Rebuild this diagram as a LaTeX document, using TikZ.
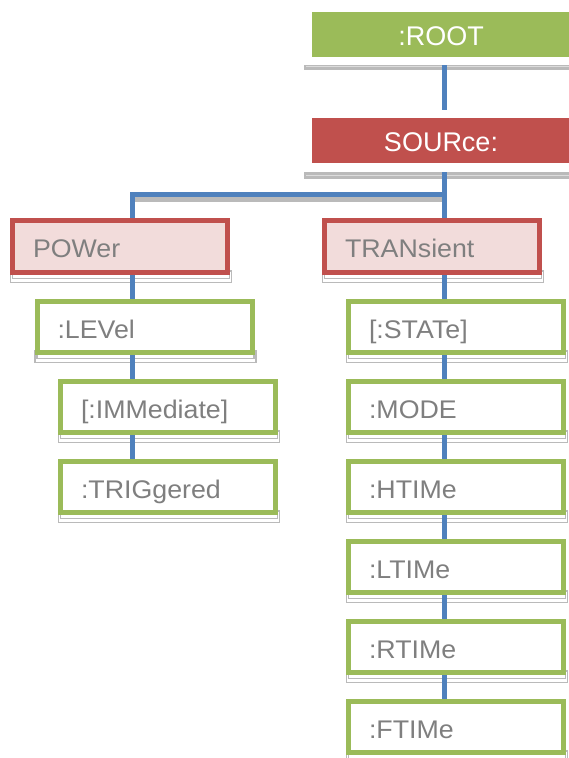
\documentclass[tikz,border=0pt]{standalone}
\usepackage{fontspec}
\setmainfont{Liberation Sans}[FakeStretch=1.05]
\newfontfamily\topfont{Liberation Sans}
\usetikzlibrary{calc}
\pgfdeclarelayer{shad}
\pgfdeclarelayer{conn}
\pgfsetlayers{shad,conn,main}
\definecolor{kgreen}{HTML}{9BBB59}
\definecolor{kred}{HTML}{C0504D}
\definecolor{kpink}{HTML}{F2DCDB}
\definecolor{kblue}{HTML}{4F81BD}
\definecolor{ktext}{HTML}{7F7F7F}
\definecolor{kshad}{HTML}{BABABA}
\definecolor{kshadl}{HTML}{DCDCDC}
\begin{document}
\begin{tikzpicture}[x=1pt,y=-1pt,
  topbox/.style={rectangle, minimum width=258pt, minimum height=45pt, inner sep=0pt,
    text=white, font=\topfont\fontsize{27}{30}\selectfont, text height=22pt, text depth=0pt},
  rootbox/.style={topbox, fill=kgreen},
  srcbox/.style={topbox, fill=kred},
  subbox/.style={rectangle, line width=5pt, minimum width=215pt, text width=174pt,
    inner xsep=20.5pt, inner ysep=0pt, align=left, text=ktext,
    font=\fontsize{25.5}{30}\selectfont, text height=22pt, text depth=0pt},
  groupbox/.style={subbox, draw=kred, fill=kpink, minimum height=52pt},
  leafbox/.style={subbox, draw=kgreen, fill=white, minimum height=51pt},
  conn/.style={draw=kblue, line width=5pt, line join=miter},
  shadline/.style={draw=kshad, line width=1.6pt},
]
\useasboundingbox (0,0) rectangle (569,758);

% nodes
\node[rootbox] (root) at (441,34.5) {:ROOT};
\node[srcbox] (source) at (441,140.5) {SOURce:};
\node[groupbox] (power) at (120,246.5) {POWer};
\node[groupbox] (transient) at (432,246.5) {TRANsient};
\node[leafbox] (level) at (144.5,327) {:LEVel};
\node[leafbox] (imm) at (168,407) {[:IMMediate]};
\node[leafbox] (trig) at (168,487) {:TRIGgered};
\node[leafbox] (state) at (456,327) {[:STATe]};
\node[leafbox] (mode) at (456,407) {:MODE};
\node[leafbox] (htime) at (456,487) {:HTIMe};
\node[leafbox] (ltime) at (456,567) {:LTIMe};
\node[leafbox] (rtime) at (456,647) {:RTIMe};
\node[leafbox] (ftime) at (456,727) {:FTIMe};

\coordinate (jL) at (132.5,194.5);
\coordinate (jR) at (444,194.5);

% shadows
\begin{pgfonlayer}{shad}
  \fill[kshad] ($(root.south west)+(-8,8)$) rectangle ($(root.south east)+(2,12.5)$);
  \draw[kshadl, line width=0.8pt] ($(root.south west)+(-6,9)$) -- ($(root.south east)+(2,9)$);
  \fill[kshad] ($(source.south west)+(-8,9)$) rectangle ($(source.south east)+(2,16)$);
  \draw[kshadl, line width=1pt] ($(source.south west)+(-6,12.5)$) -- ($(source.south east)+(2,12.5)$);
  \draw[kshad, line width=4.5pt] ($(jL)+(2.5,5)$) -- ($(jR)+(0,5)$);
  \foreach \n in {power,transient,level,imm,trig,state,mode,htime,ltime,rtime,ftime}{
    \draw[shadline] ($(\n.south west)+(0.5,-4)$) rectangle ($(\n.south east)+(1.5,7.5)$);
    \draw[shadline] ($(\n.south west)+(2.5,-4)$) rectangle ($(\n.south east)+(-0.5,3.5)$);
  }
\end{pgfonlayer}

% connectors
\begin{pgfonlayer}{conn}
  \draw[conn] ($(root.south -| jR)+(0,8)$) -- ($(source.north -| jR)+(0,-8)$);
  \draw[conn] ($(source.south -| jR)+(0,9)$) -- (ftime.north -| jR);
  \draw[conn] (trig.north -| jL) -- (jL) -- (jR);
\end{pgfonlayer}
\end{tikzpicture}
\end{document}
